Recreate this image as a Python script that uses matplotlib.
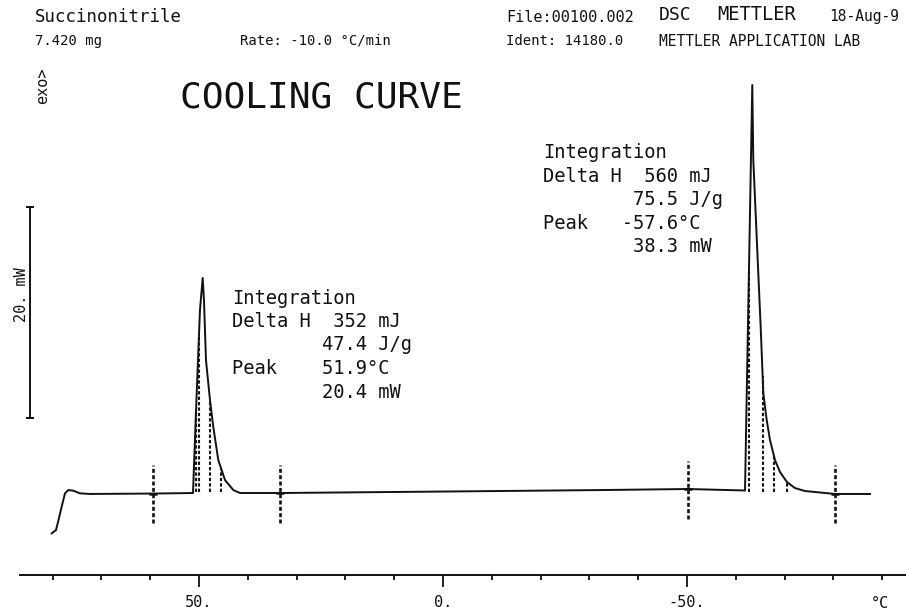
import matplotlib
matplotlib.use("Agg")
import matplotlib.pyplot as plt
import numpy as np

# ---------------- data ----------------
temperature_C = [80.18, 79.30, 78.79, 78.14, 77.46, 76.78, 75.76, 74.39, 72.34, 59.43,
                 51.23, 50.47, 49.80, 49.24, 48.98, 48.57, 47.75, 47.07, 46.05, 44.67,
                 42.97, 41.60, 33.40, 0.0, -32.17, -50.20, -61.89, -63.38, -63.59, -64.49,
                 -65.10, -65.64, -66.33, -67.01, -68.03, -69.06, -70.49, -72.13, -74.18,
                 -80.33, -87.50]
heat_flow_mW = [-3.82, -3.51, -2.56, -1.30, -0.03, 0.28, 0.22, -0.03, -0.09, -0.05,
                0.0, 9.48, 17.35, 20.38, 18.29, 12.61, 8.82, 6.26, 3.13, 1.23,
                0.28, 0.0, 0.0, 0.14, 0.28, 0.38, 0.24, 38.67, 31.56, 22.09,
                15.73, 9.48, 6.92, 5.02, 3.13, 1.99, 1.04, 0.47, 0.19,
                -0.09, -0.09]

integration_limits_C = [59.4, 33.4, -50.2, -80.3]
partial_area_C = [50.6, 50.0, 47.7, 45.4, -62.7, -65.5, -67.9, -70.4]

major_ticks_C = [50, 0, -50]
major_tick_labels = ["50.", "0.", "-50."]
minor_ticks_C = [80, 70, 60, 40, 30, 20, 10, -10, -20, -30, -40, -60, -70, -80, -90]

scale_bar_mW = 20
scale_bar_label = "20. mW"

peak1_text = ["Integration", "Delta H  352 mJ", "        47.4 J/g",
              "Peak    51.9°C", "        20.4 mW"]
peak2_text = ["Integration", "Delta H  560 mJ", "        75.5 J/g",
              "Peak   -57.6°C", "        38.3 mW"]

# ---------------- figure ----------------
W, H = 906, 614
INK = "#111111"
MONO = "DejaVu Sans Mono"
plt.rcParams["font.family"] = MONO

fig = plt.figure(figsize=(W / 100, H / 100), dpi=100, facecolor="white")


def fx(px):
    return px / W


def fy(py):
    return 1 - py / H


ax = fig.add_axes([fx(20), fy(575), fx(886), 515 / H])
ax.set_xlim(86.68, -94.88)
ax.set_ylim(-7.77, 41.04)
ax.set_facecolor("white")
for s in ("top", "right", "left"):
    ax.spines[s].set_visible(False)
ax.spines["bottom"].set_linewidth(1.4)
ax.spines["bottom"].set_color(INK)
ax.set_yticks([])
ax.set_xticks(major_ticks_C)
ax.set_xticklabels(major_tick_labels)
ax.set_xticks(minor_ticks_C, minor=True)
ax.tick_params(axis="x", which="major", direction="out", length=8.5, width=1.3,
               pad=6, labelsize=11, colors=INK)
ax.tick_params(axis="x", which="minor", direction="out", length=3.5, width=1.3, colors=INK)

# curve
ax.plot(temperature_C, heat_flow_mW, color=INK, lw=1.4, solid_joinstyle="round")

# partial area dashed lines (baseline up to curve)
T_sorted = np.array(temperature_C)[::-1]
Y_sorted = np.array(heat_flow_mW)[::-1]
for t in partial_area_C:
    top = np.interp(t, T_sorted, Y_sorted)
    ax.plot([t, t], [0.1, top], color=INK, lw=1.5, linestyle=(0, (1.6, 1.0)))

# integration limit markers
for t in integration_limits_C:
    base = np.interp(t, T_sorted, Y_sorted)
    ax.plot([t, t], [base - 2.8, base + 2.7], color=INK, lw=1.9, linestyle=(0, (1.5, 0.9)))
    ax.plot([t], [base], marker="_", ms=6, mew=1.8, color=INK)

# scale bar
sb_x = 84.6
sb_bottom = 7.1
ax.plot([sb_x, sb_x], [sb_bottom, sb_bottom + scale_bar_mW], color=INK, lw=1.4,
        marker="_", ms=6, mew=1.4, clip_on=False)
fig.text(fx(22), fy(295), scale_bar_label, rotation=90, ha="center", va="center",
         fontsize=11, color=INK)

# annotation blocks
for i, line in enumerate(peak1_text):
    fig.text(fx(232), fy(298 + 23.5 * i), line, ha="left", va="center",
             fontsize=13.5, color=INK)
for i, line in enumerate(peak2_text):
    fig.text(fx(543), fy(153 + 23.5 * i), line, ha="left", va="center",
             fontsize=13.5, color=INK)

# headings
fig.text(fx(180), fy(97), "COOLING CURVE", ha="left", va="center", fontsize=26, color=INK)
fig.text(fx(43), fy(86), "exo>", rotation=90, ha="center", va="center", fontsize=11, color=INK)
fig.text(fx(35), fy(17), "Succinonitrile", ha="left", va="center", fontsize=12.5, color=INK)
fig.text(fx(35), fy(41), "7.420 mg", ha="left", va="center", fontsize=10, color=INK)
fig.text(fx(240), fy(41), "Rate: -10.0 °C/min", ha="left", va="center", fontsize=10, color=INK)
fig.text(fx(506), fy(17), "File:00100.002", ha="left", va="center", fontsize=11, color=INK)
fig.text(fx(506), fy(41), "Ident: 14180.0", ha="left", va="center", fontsize=10, color=INK)
fig.text(fx(659), fy(15), "DSC", ha="left", va="center", fontsize=13, color=INK)
fig.text(fx(717), fy(15), "METTLER", ha="left", va="center", fontsize=13.5, color=INK)
fig.text(fx(829), fy(17), "18-Aug-9", ha="left", va="center", fontsize=10.5, color=INK)
fig.text(fx(659), fy(41), "METTLER APPLICATION LAB", ha="left", va="center", fontsize=10.5, color=INK)
fig.text(fx(880), fy(603), "°C", ha="center", va="center", fontsize=11, color=INK)

fig.savefig("out.png", dpi=100, facecolor="white")
